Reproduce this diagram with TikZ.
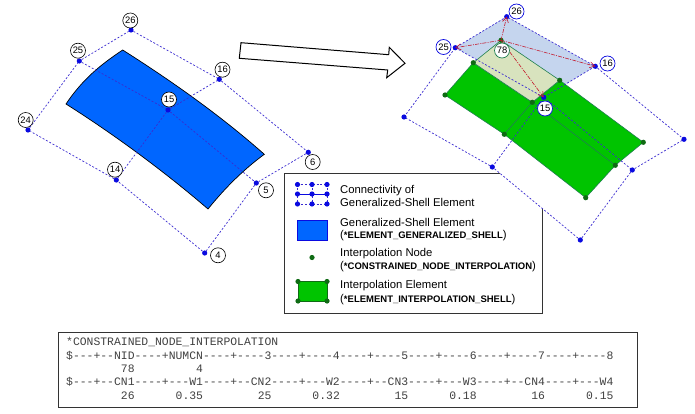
\documentclass[tikz,border=0pt]{standalone}
\usepackage{fontspec}
\setmainfont{Liberation Sans}
\setmonofont{Liberation Mono}
\usetikzlibrary{arrows.meta}
\definecolor{shellblue}{HTML}{0066FF}
\definecolor{interpgreen}{HTML}{00C400}
\definecolor{nodegreen}{HTML}{0F6B14}
\definecolor{edgegreen}{HTML}{1F7F50}
\definecolor{meshblue}{HTML}{3A2BD0}
\definecolor{dotblue}{HTML}{0A0AE0}
\definecolor{paleblue}{HTML}{C5D5EE}
\definecolor{palegreen}{HTML}{D8E3BE}
\definecolor{linkred}{HTML}{C4182C}

\begin{document}
\begin{tikzpicture}[x=1pt, y=-1pt, font=\fontsize{11.3pt}{13pt}\selectfont,
    mesh/.style={draw=meshblue, line width=0.7pt, dash pattern=on 2pt off 1.8pt},
    dot/.style={circle, fill=dotblue, inner sep=0pt, minimum size=5.2pt},
    gdot/.style={circle, fill=nodegreen, inner sep=0pt, minimum size=5.2pt},
    tag/.style={circle, draw=black, fill=white, line width=0.6pt, inner sep=0pt, minimum size=15pt, font=\fontsize{9.4pt}{10pt}\selectfont},
    btag/.style={tag, draw=dotblue, line width=0.7pt},
    gtag/.style={tag, draw=edgegreen, line width=0.7pt},
    link/.style={draw=linkred, line width=0.6pt, dash pattern=on 4pt off 1.2pt on 1pt off 1.2pt, -{Straight Barb[length=5pt, width=6pt]}},
    boxed/.style={draw=black!80, line width=0.9pt},
    entry/.style={anchor=west, inner sep=0pt},
    code/.style={font=\fontsize{11.4pt}{12pt}\ttfamily, text=black!75, anchor=base west, inner sep=0pt},
  ]
  \newcommand{\keyname}[1]{(\textbf{\fontsize{9.5pt}{10pt}\selectfont #1})}
  \useasboundingbox (0,0) rectangle (695,414);

  % left mesh
  \fill[shellblue, draw=black, line width=0.7pt] (122.7,50) .. controls (170,80) and (220,115) .. (264.3,154.3)
    .. controls (243,170) and (225,188) .. (208,209)
    .. controls (165,172) and (115,135) .. (66,104)
    .. controls (82,80) and (100,65) .. (122.7,50) -- cycle;
  \foreach \name/\x/\y in {a26/131/30, a25/79.3/61, a24/28/130, a16/219.3/79.3, a15/168/110, a14/116.3/180, a6/308.3/152.3, a5/256.3/183, a4/204.7/253}
    \node[dot] (\name) at (\x,\y) {};
  \draw[mesh] (a24) -- (a25) -- (a26) -- (a16) -- (a6) -- (a5) -- (a4) -- (a14) -- (a24);
  \draw[mesh] (a25) -- (a15) -- (a5);
  \draw[mesh] (a14) -- (a15) -- (a16);
  \foreach \name/\x/\y/\lab in {t26/130.3/20.5/26, t25/78/50.7/25, t24/25.7/120/24, t16/222.5/69.7/16, t15/169/99.5/15, t14/115/169.7/14, t6/312.7/162/6, t5/266/190.3/5, t4/218/255.3/4}
    \node[tag] (\name) at (\x,\y) {\lab};

  % block arrow
  \draw[line width=1pt, fill=white] (241,42.7) -- (388.7,54.7) -- (389.3,47.3) -- (405,63.3) -- (386.7,77.7) -- (387.7,70) -- (239.3,58.3) -- cycle;

  % legend
  \draw[boxed, fill=white] (284,173.3) rectangle (542.7,313);
  \foreach \y in {184.5,204}
    \draw[mesh] (297.5,\y) -- (327,\y);
  \foreach \x in {297.5,312,327}
    \draw[mesh] (\x,184.5) -- (\x,204);
  \draw[dotblue, line width=0.7pt] (297.5,194) -- (327,194);
  \foreach \x in {297.5,312,327}
    \foreach \y in {184.5,194,204}
      \node[dot] at (\x,\y) {};
  \node[entry, align=left] (con) at (340,195.5) {Connectivity of\\Generalized-Shell Element};
  \draw[fill=shellblue, draw=dotblue, line width=0.6pt] (297.5,220) rectangle (327,240.5);
  \node[entry] (gs) at (340,222.3) {Generalized-Shell Element};
  \node[entry] (gsk) at (340,236) {\keyname{*ELEMENT\_GENERALIZED\_SHELL}};
  \node[gdot] (inode) at (312,257.5) {};
  \node[entry] (in) at (340,253.3) {Interpolation Node};
  \node[entry] (ink) at (340,266.7) {\keyname{*CONSTRAINED\_NODE\_INTERPOLATION}};
  \draw[fill=interpgreen, draw=nodegreen, line width=0.6pt] (298,281.5) rectangle (327,301);
  \foreach \x in {298,327}
    \foreach \y in {281.5,301}
      \node[gdot] at (\x,\y) {};
  \node[entry] (ie) at (340,285.3) {Interpolation Element};
  \node[entry] (iek) at (340,299.3) {\keyname{*ELEMENT\_INTERPOLATION\_SHELL}};

  % right mesh, its white ground hides the corner of the legend
  \foreach \name/\x/\y in {b26/506.7/16.7, b25/455.3/47.7, b24/404/117, b16/595.3/66.3, b15/543.7/97.3, b14/492.3/167, b6/684/139.3, b5/632.3/170, b4/580.3/240}
    \coordinate (\name) at (\x,\y);
  \foreach \name/\x/\y in {g1/501/40.3, g2/473.3/62.7, g3/445/95, g4/504.3/134.3, g5/532.3/102.3, g6/559.7/80.3, g7/643.3/142.3, g8/615.3/165.3, g9/585.7/197.7}
    \coordinate (\name) at (\x,\y);
  \fill[white] (b24) -- (b25) -- (b26) -- (b16) -- (b6) -- (b5) -- (b4) -- (b14) -- cycle;
  \fill[paleblue] (b26) -- (b25) -- (b15) -- (b16) -- cycle;
  \filldraw[fill=interpgreen, draw=edgegreen, line width=0.6pt] (g2) -- (g3) -- (g4) -- (g9) -- (g8) -- (g7) -- (g6) -- (g5) -- cycle;
  \filldraw[fill=palegreen, draw=edgegreen, line width=0.6pt] (g1) -- (g2) -- (g5) -- (g6) -- cycle;
  \draw[edgegreen, line width=0.6pt] (g4) -- (g5);
  \draw[edgegreen, line width=0.6pt] (g5) -- (g8);
  \draw[mesh] (b24) -- (b25) -- (b26) -- (b16) -- (b6) -- (b5) -- (b4) -- (b14) -- (b24);
  \draw[mesh] (b25) -- (b15) -- (b5);
  \draw[mesh] (b14) -- (b15) -- (b16);
  \foreach \c in {g1,g2,g3,g4,g5,g6,g7,g8,g9}
    \node[gdot] at (\c) {};
  \foreach \c in {b26,b25,b24,b16,b15,b14,b6,b5,b4}
    \node[dot] at (\c) {};
  \draw[link] (g1) -- (b26);
  \draw[link] (g1) -- (b25);
  \draw[link] (g1) -- (b16);
  \draw[link] (g1) -- (b15);
  \node[btag] (l26) at (516.5,11.5) {26};
  \node[btag] (l25) at (443.5,47) {25};
  \node[btag] (l16) at (607.5,63.5) {16};
  \node[btag] (l15) at (545,108.5) {15};
  \node[gtag] (l78) at (502,50.5) {78};

  % keyword card
  \draw[boxed] (58,332) rectangle (637.7,407);
  \node[code] (c1) at (66,345) {*CONSTRAINED\_NODE\_INTERPOLATION};
  \node[code] (c2) at (66,359) {\$---+--NID----+NUMCN----+----3----+----4----+----5----+----6----+----7----+----8};
  \node[code] (c3) at (66,372.5) {\phantom{--------}78\phantom{---------}4};
  \node[code] (c4) at (66,385.5) {\$---+--CN1----+---W1----+--CN2----+---W2----+--CN3----+---W3----+--CN4----+---W4};
  \node[code] (c5) at (66,399.5) {\phantom{--------}26\phantom{------}0.35\phantom{--------}25\phantom{------}0.32\phantom{--------}15\phantom{------}0.18\phantom{--------}16\phantom{------}0.15};
\end{tikzpicture}
\end{document}
